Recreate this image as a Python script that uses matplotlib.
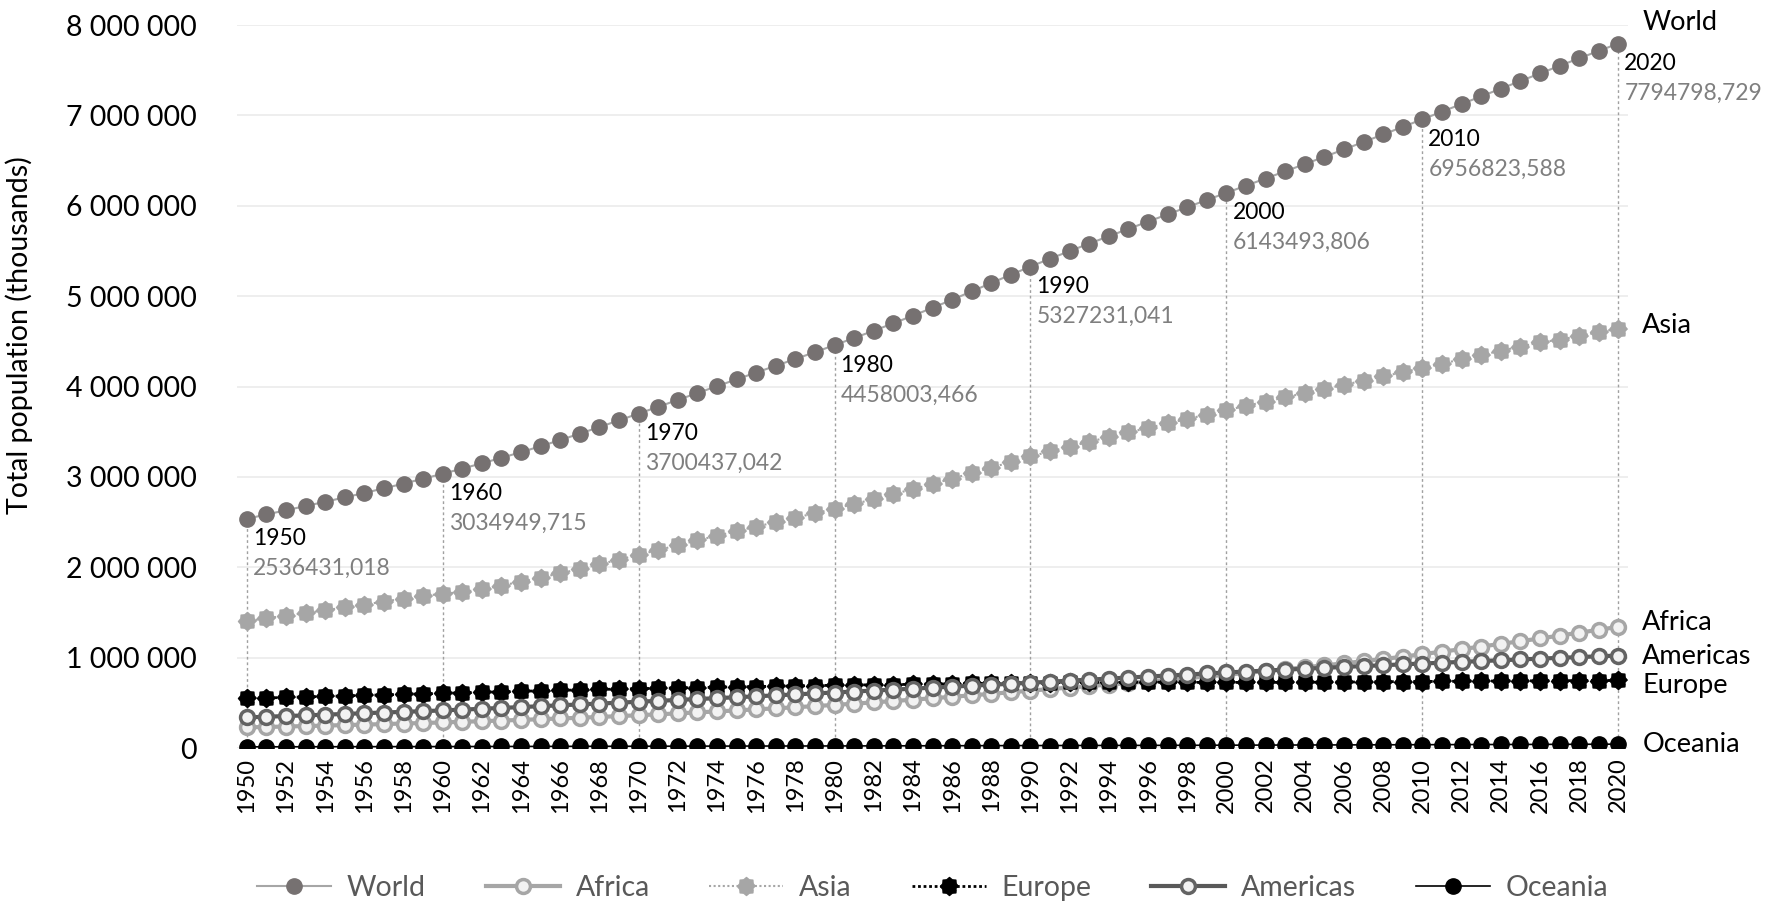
"world population by region 1950-2020"
import numpy as np
import matplotlib
matplotlib.use("Agg")
import matplotlib.pyplot as plt
from matplotlib.ticker import FuncFormatter

plt.rcParams['font.family'] = ['Lato', 'DejaVu Sans']

"data (thousands)"
years = list(range(1950, 2021))

world = [2536431.018, 2584034, 2630862, 2677609, 2724847, 2773020, 2822443, 2873306, 2925687, 2979576,
         3034949.715, 3091844, 3150421, 3211001, 3273978, 3339584, 3407923, 3478770, 3551599, 3625681,
         3700437.042, 3775760, 3851651, 3927781, 4003794, 4079480, 4154667, 4229506, 4304534, 4380506,
         4458003.466, 4536997, 4617387, 4699569, 4784012, 4870922, 4960568, 5052522, 5145426, 5237441,
         5327231.041, 5414289, 5498920, 5581598, 5663150, 5744213, 5824892, 5905046, 5984794, 6064239,
         6143493.806, 6222627, 6301773, 6381185, 6461159, 6541907, 6623518, 6705947, 6789089, 6872767,
         6956823.588, 7041194, 7125828, 7210582, 7295291, 7379797, 7464022, 7547859, 7631091, 7713468,
         7794798.729]

africa = [228670, 233000, 238000, 243000, 248000, 254000, 259000, 265000, 271000, 277000,
          283000, 290000, 297000, 304000, 311000, 319000, 327000, 335000, 344000, 353000,
          363000, 373000, 383000, 394000, 405000, 416000, 428000, 439000, 451000, 464000,
          477000, 491000, 505000, 520000, 535000, 551000, 567000, 583000, 600000, 617000,
          635000, 652000, 669000, 686000, 702000, 719000, 737000, 755000, 773000, 792000,
          811000, 831000, 851000, 872000, 893000, 915000, 937000, 961000, 985000, 1010000,
          1039000, 1066000, 1094000, 1123000, 1152000, 1182000, 1212000, 1244000, 1276000, 1308000,
          1341000]

asia = [1404909, 1435000, 1465000, 1494000, 1524000, 1555000, 1587000, 1620000, 1654000, 1683000,
        1707000, 1726000, 1757000, 1798000, 1841000, 1886000, 1933000, 1981000, 2032000, 2085000,
        2138000, 2191000, 2244000, 2297000, 2349000, 2400000, 2450000, 2499000, 2548000, 2598000,
        2649000, 2700000, 2754000, 2809000, 2865000, 2922000, 2981000, 3042000, 3103000, 3164000,
        3226000, 3282000, 3336000, 3389000, 3441000, 3492000, 3542000, 3592000, 3641000, 3690000,
        3738000, 3786000, 3833000, 3880000, 3927000, 3973000, 4019000, 4065000, 4112000, 4159000,
        4206000, 4253000, 4301000, 4348000, 4395000, 4442000, 4488000, 4518000, 4560000, 4601000,
        4641000]

europe = [549329, 554000, 560000, 566000, 571000, 577000, 583000, 588000, 594000, 600000,
          605000, 611000, 617000, 622000, 628000, 633000, 638000, 643000, 648000, 652000,
          657000, 661000, 665000, 669000, 673000, 677000, 680000, 684000, 687000, 691000,
          694000, 697000, 700000, 702000, 705000, 708000, 711000, 714000, 717000, 720000,
          721000, 724000, 726000, 727000, 727000, 728000, 728000, 728000, 727000, 726000,
          726000, 726000, 726000, 727000, 728000, 729000, 730000, 731000, 733000, 735000,
          736000, 738000, 739000, 741000, 742000, 743000, 744000, 745000, 746000, 747000,
          748000]

americas = [339000, 346000, 354000, 361000, 369000, 377000, 385000, 393000, 400000, 408000,
            416000, 425000, 434000, 444000, 453000, 463000, 473000, 482000, 492000, 502000,
            512000, 522000, 532000, 542000, 552000, 562000, 572000, 583000, 593000, 604000,
            614000, 625000, 636000, 646000, 657000, 668000, 679000, 690000, 700000, 711000,
            722000, 734000, 745000, 757000, 768000, 780000, 791000, 802000, 813000, 825000,
            836000, 846000, 857000, 867000, 877000, 887000, 897000, 907000, 916000, 926000,
            935000, 944000, 953000, 962000, 971000, 980000, 989000, 998000, 1006000, 1015000,
            1023000]

oceania = [12977, 13300, 13600, 13900, 14200, 14500, 14800, 15100, 15400, 15600,
           15900, 16300, 16700, 17100, 17500, 17900, 18300, 18700, 19100, 19400,
           19700, 20100, 20500, 20900, 21200, 21500, 21800, 22100, 22300, 22600,
           22900, 23300, 23700, 24100, 24500, 24900, 25300, 25700, 26100, 26600,
           27000, 27400, 27800, 28200, 28600, 29000, 29400, 29800, 30200, 30800,
           31400, 31900, 32400, 32900, 33500, 34000, 34500, 35000, 35600, 36100,
           36700, 37300, 37800, 38400, 39000, 39500, 40100, 40700, 41300, 42100,
           42700]

label_years = [1950, 1960, 1970, 1980, 1990, 2000, 2010, 2020]

"cog shaped marker"
ang = np.linspace(0, 2 * np.pi, 17)[:-1]
rad = np.where(np.arange(16) % 2 == 0, 1.0, 0.8)
cog = list(zip(rad * np.cos(ang), rad * np.sin(ang)))

fig = plt.figure(figsize=(17.71, 9.10), dpi=100)
ax = fig.add_axes([0.1338, 0.178, 0.7855, 0.7945])

"drop lines at the decades"
for yr in label_years:
    v = world[years.index(yr)]
    ax.plot([yr, yr], [0, v], color="#a0a0a0", lw=1.0, ls=(0, (2, 2)), zorder=1)

ms = 11
ax.plot(years, world, color="#a6a6a6", lw=1.5, marker="o", ms=ms,
        mfc="#767171", mec="#767171", label="World", zorder=3)
ax.plot(years, africa, color="#a6a6a6", lw=3, marker="o", ms=ms - 1,
        mfc="#f2f2f2", mec="#a6a6a6", mew=2.5, label="Africa", zorder=3)
ax.plot(years, asia, color="#a6a6a6", lw=1.5, ls=(0, (1, 1.2)), marker=cog, ms=ms + 2,
        mfc="#a6a6a6", mec="#a6a6a6", label="Asia", zorder=3)
ax.plot(years, europe, color="black", lw=2, ls=(0, (1, 1)), marker=cog, ms=ms + 2,
        mfc="black", mec="black", label="Europe", zorder=3)
ax.plot(years, americas, color="#595959", lw=3, marker="o", ms=ms - 1,
        mfc="#f2f2f2", mec="#636363", mew=2.5, label="Americas", zorder=3)
ax.plot(years, oceania, color="black", lw=1.2, marker="o", ms=ms,
        mfc="black", mec="black", label="Oceania", zorder=3)

"decade labels on world line"
for yr in label_years:
    v = world[years.index(yr)]
    ax.annotate(str(yr), (yr, v), xytext=(6, -20), textcoords="offset pixels",
                ha="left", va="center", fontsize=16.5, color="black", zorder=4)
    ax.annotate(f"{v:.3f}".replace(".", ","), (yr, v), xytext=(6, -50),
                textcoords="offset pixels", ha="left", va="center",
                fontsize=16.5, color="#7f7f7f", zorder=4)

"series names at the right end (pixel shift up)"
ends = [("World", world, 24), ("Asia", asia, 6), ("Africa", africa, 7),
        ("Americas", americas, 2), ("Europe", europe, -3), ("Oceania", oceania, 2)]
for name, s, dy in ends:
    ax.annotate(name, (years[-1], s[-1]), xytext=(24, dy), textcoords="offset pixels",
                ha="left", va="center_baseline", fontsize=19.5, color="black")

ax.set_xlim(1949.5, 2020.5)
ax.set_ylim(0, 8000000)
ax.set_yticks(np.arange(0, 8000001, 1000000))
ax.yaxis.set_major_formatter(FuncFormatter(lambda v, p: f"{int(v):,}".replace(",", " ")))
ax.set_xticks(years[::2])
ax.set_xticklabels([str(y) for y in years[::2]], rotation=90)
ax.tick_params(axis="y", length=0, pad=29, labelsize=20.5)
ax.tick_params(axis="x", length=0, pad=7, labelsize=17)
ax.grid(axis="y", color="#ebebeb", lw=1.2, zorder=0)
ax.set_axisbelow(True)
for sp in ax.spines.values():
    sp.set_visible(False)

fig.text(0.011, 1 - 335 / 910, "Total population (thousands)", rotation=90,
         ha="center", va="center", fontsize=20.5)

leg = ax.legend(loc="center", bbox_to_anchor=(0.5266, 0.024), bbox_transform=fig.transFigure,
                ncol=6, frameon=False, fontsize=20.5, handlelength=2.6,
                handletextpad=0.55, columnspacing=2.1)
for t in leg.get_texts():
    t.set_color("#595959")

plt.savefig("out.png", dpi=100)
